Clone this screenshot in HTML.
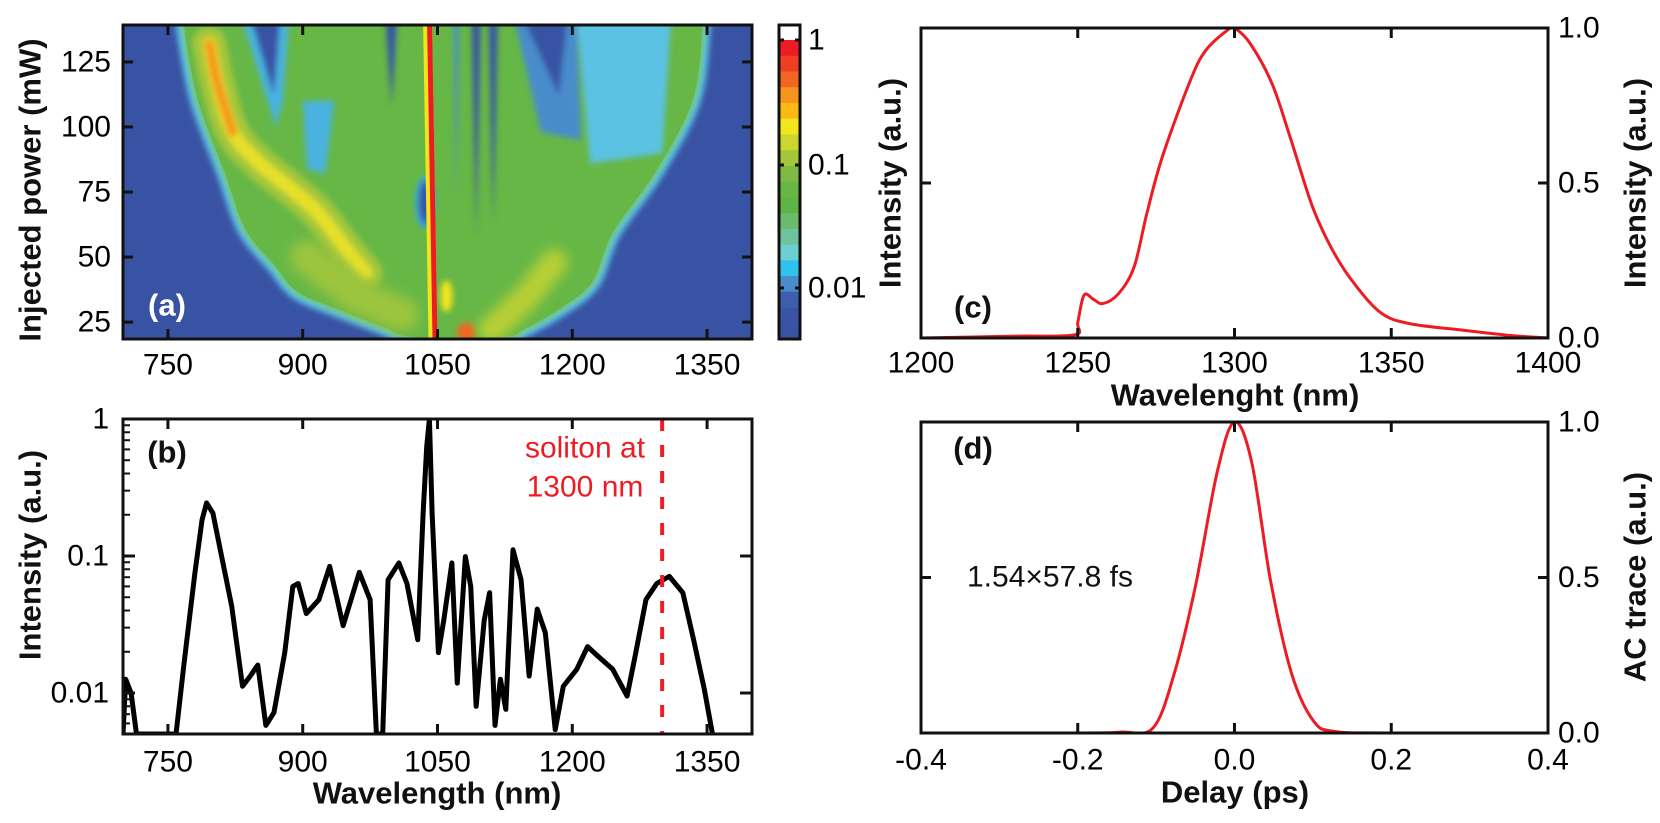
<!DOCTYPE html>
<html><head><meta charset="utf-8"><style>
body{margin:0;background:#fff}
svg{display:block}
text{font-family:"Liberation Sans",sans-serif}
</style></head><body>
<svg id="fig" width="1660" height="823" viewBox="0 0 1660 823" xmlns="http://www.w3.org/2000/svg">
<defs>
<clipPath id="clipA"><rect x="123" y="25" width="629" height="314"/></clipPath>
<clipPath id="clipB"><rect x="123" y="419" width="629" height="315"/></clipPath>
<clipPath id="clipC"><rect x="921" y="28" width="627" height="310"/></clipPath>
<clipPath id="clipD"><rect x="921" y="422" width="627" height="311"/></clipPath>
<filter id="blur3" x="-50%" y="-50%" width="200%" height="200%"><feGaussianBlur stdDeviation="3"/></filter>
<filter id="blur6" x="-50%" y="-50%" width="200%" height="200%"><feGaussianBlur stdDeviation="6"/></filter>
</defs>
<g id="panelA"></g>
<g id="cbar"></g>
<g id="panelB"></g>
<g id="panelC"></g>
<g id="panelD"></g>
</svg>
<script>
// ---------- data: panel (a) contour envelopes ----------
const envPower = [138, 110.4, 82.2, 60.4, 46.3, 36.0, 29, 22.6, 18.5];
const envLeft  = [766, 781, 811, 834, 867, 893, 940, 988, 1023];
const envPowerR = [138, 110, 82, 59, 39.9, 29.6, 21.5, 18.5];
const envRight  = [1347, 1336, 1294, 1247, 1224, 1188, 1147, 1123];
const ridgeNm = [796, 805, 822, 852, 884, 917, 946, 970];
const ridgePower = [132, 117, 98, 86, 77, 67, 54, 44];
const solitonLineNm = [1039, 1045];
const solitonLinePower = [139, 18.5];
// ---------- data: panel (b) ----------
const bNm = [700,703,709,715,759,768,780,788,793,800,812,821,833,842,850,859,868,880,889,895,904,918,930,945,963,975,982,989,995,1007,1016,1028,1034,1038,1041,1044,1051,1057,1066,1072,1081,1087,1093,1102,1108,1114,1120,1126,1134,1143,1152,1161,1170,1181,1190,1205,1217,1228,1245,1261,1270,1282,1294,1308,1323,1335,1347,1356];
const bInt = [0.005,0.0126,0.01,0.005,0.005,0.0166,0.075,0.184,0.244,0.206,0.084,0.043,0.0112,0.0134,0.016,0.0058,0.0072,0.0197,0.06,0.063,0.038,0.048,0.084,0.031,0.076,0.048,0.005,0.005,0.067,0.089,0.063,0.0245,0.206,0.63,1.0,0.206,0.0197,0.034,0.089,0.0118,0.099,0.06,0.008,0.034,0.054,0.0058,0.0126,0.0076,0.111,0.067,0.0133,0.041,0.0275,0.0054,0.0112,0.0149,0.0218,0.0187,0.0149,0.0095,0.0187,0.048,0.063,0.071,0.054,0.0245,0.0106,0.005];
const bTicksX = [750, 900, 1050, 1200, 1350];
const bTicksY = [1, 0.1, 0.01];
const bTickLabelsY = ["1", "0.1", "0.01"];
// ---------- data: panel (c) ----------
const cNm = [1200,1230,1249,1250,1252,1255,1258,1263,1268,1272,1277,1286,1291,1298,1300,1305,1312,1318,1325,1332,1339,1347,1356,1373,1387,1400];
const cInt = [0,0.006,0.01,0.05,0.138,0.125,0.111,0.143,0.23,0.4,0.585,0.833,0.93,0.995,1.0,0.95,0.82,0.64,0.42,0.27,0.165,0.079,0.046,0.025,0.009,0];
const cTicksX = [1200,1250,1300,1350,1400];
const cTicksY = [0, 0.5, 1.0];
// ---------- data: panel (d) ----------
const dDelay = [-0.4,-0.2,-0.145,-0.104,-0.077,-0.05,-0.022,0,0.022,0.046,0.073,0.101,0.128,0.2,0.4];
const dInt = [0,0,0.003,0.016,0.19,0.47,0.84,1.0,0.87,0.49,0.19,0.038,0.005,0,0];
const dTicksX = [-0.4,-0.2,0,0.2,0.4];
const dTickLabelsX = ["-0.4","-0.2","0.0","0.2","0.4"];
const dTicksY = [0, 0.5, 1.0];
// ---------- colorbar ----------
const cbarColors = ["#ed1c24","#ef3e23","#f26522","#f7941d","#fdb913","#f3e51c","#cbd62f","#a3c63a","#7fbb42","#66b746","#5fb448","#6bba6e","#6cc39c","#6dcfd0","#2fc2ee","#4a8ccb","#3d5fab","#3a54a3","#3a52a2"];
const cbarTicks = [1, 0.1, 0.01];
const cbarLabels = ["1","0.1","0.01"];
const aTicksY = [25,50,75,100,125];

const NS="http://www.w3.org/2000/svg";
function mk(tag, attrs, parent){const e=document.createElementNS(NS,tag);for(const k in attrs)e.setAttribute(k,attrs[k]);parent.appendChild(e);return e;}
function txt(parent,x,y,s,size,anchor,weight,fill,rot){const t=mk('text',{x:x,y:y,'font-size':size,'text-anchor':anchor||'middle','dominant-baseline':'central','font-weight':weight||'normal',fill:fill||'#000'},parent);if(rot)t.setAttribute('transform','rotate('+rot+' '+x+' '+y+')');t.textContent=s;return t;}
function smooth(pts){let d='M'+pts[0][0]+','+pts[0][1];for(let i=0;i<pts.length-1;i++){const p0=pts[Math.max(0,i-1)],p1=pts[i],p2=pts[i+1],p3=pts[Math.min(pts.length-1,i+2)];
const c1x=p1[0]+(p2[0]-p0[0])/6,c1y=p1[1]+(p2[1]-p0[1])/6,c2x=p2[0]-(p3[0]-p1[0])/6,c2y=p2[1]-(p3[1]-p1[1])/6;d+=' C'+c1x+','+c1y+' '+c2x+','+c2y+' '+p2[0]+','+p2[1];}return d;}

const ax=nm=>123+(nm-700)/700*629;
const ay=p=>339-(p-18.5)/(139.2-18.5)*314;
const by=v=>Math.min(734,419-Math.log10(v)*137);
const cx=nm=>921+(nm-1200)/200*627;
const cy=v=>338-v*310;
const dx=t=>921+(t+0.4)/0.8*627;
const dy=v=>733-v*311;
const cby=v=>288-(Math.log10(v)+2)*123;

// ---------- Panel A ----------
const A=document.getElementById('panelA');
const ga=mk('g',{'clip-path':'url(#clipA)'},A);
let r=mk('rect',{x:123,y:25,width:629,height:314,fill:'#3953a4'},ga);


function envPts(){let pts=[];pts.push([ax(envLeft[0]),ay(envPower[0])-20]);for(let i=0;i<envPower.length;i++)pts.push([ax(envLeft[i]),ay(envPower[i])]);for(let i=envPowerR.length-1;i>=0;i--)pts.push([ax(envRight[i]),ay(envPowerR[i])]);pts.push([ax(envRight[0]),ay(envPowerR[0])-20]);return pts;}
const envD=smooth(envPts())+' Z';
let p=mk('path',{d:envD,fill:'#6dcfe0',stroke:'#5cc4e0','stroke-width':12,'stroke-linejoin':'round',filter:'url(#blur3)'},ga);


p=mk('path',{d:envD,fill:'#66b746',stroke:'#6cc39c','stroke-width':4},ga);


const gh=mk('g',{filter:'url(#blur3)'},ga);
const holes=[
 {nm:[832,885,878,870],pw:[142,142,110,100],c:'#49b2e0'},
 {nm:[842,875,868],pw:[142,142,112],c:'#3953a4'},
 {nm:[992,1005,999],pw:[142,142,108],c:'#3953a4'},
 {nm:[1135,1205,1210,1165],pw:[142,142,95,98],c:'#4a8ccb'},
 {nm:[1145,1195,1185],pw:[142,142,112],c:'#3953a4'},
 {nm:[1205,1310,1300,1220],pw:[142,142,90,86],c:'#5cc2e4'},
 {nm:[1088,1098,1093],pw:[142,142,58],c:'#3953a4'},
 {nm:[1107,1117,1112],pw:[142,142,62],c:'#3953a4'},
 {nm:[1068,1074,1071],pw:[142,142,70],c:'#4a8ccb'},
 {nm:[900,935,925,905],pw:[110,110,82,84],c:'#49b2e0'}
];
holes.forEach(h=>{const e=mk('polygon',{points:h.nm.map((n,j)=>ax(n)+','+ay(h.pw[j])).join(' '),fill:h.c},gh);

});
let e=mk('ellipse',{cx:ax(1036),cy:ay(71),rx:8,ry:24,fill:'#3953a4',stroke:'#3aa8e0','stroke-width':4},gh);


const gr=mk('g',{filter:'url(#blur3)'},ga);
let rp=smooth(ridgeNm.map((n,i)=>[ax(n),ay(ridgePower[i])]));
e=mk('path',{d:rp,fill:'none',stroke:'#a3c63a','stroke-width':34,'stroke-linecap':'round','stroke-linejoin':'round'},gr);


e=mk('path',{d:rp,fill:'none',stroke:'#e6e02a','stroke-width':14,'stroke-linecap':'round','stroke-linejoin':'round'},gr);


e=mk('path',{d:smooth(ridgeNm.slice(0,3).map((n,i)=>[ax(n),ay(ridgePower[i])])),fill:'none',stroke:'#f7941d','stroke-width':9,'stroke-linecap':'round'},gr);


const gb2=mk('g',{filter:'url(#blur6)'},ga);
e=mk('polyline',{points:[ax(1110)+','+ay(22),ax(1150)+','+ay(35),ax(1180)+','+ay(48)].join(' '),fill:'none',stroke:'#b8cf35','stroke-width':26,'stroke-linecap':'round'},gb2);


e=mk('polyline',{points:[ax(905)+','+ay(50),ax(960)+','+ay(35),ax(1010)+','+ay(28)].join(' '),fill:'none',stroke:'#9cc43c','stroke-width':34,'stroke-linecap':'round'},gb2);


e=mk('ellipse',{cx:ax(1060),cy:ay(35),rx:6,ry:16,fill:'#f3e51c'},gr);


e=mk('ellipse',{cx:ax(1082),cy:ay(21),rx:9,ry:10,fill:'#f26522'},gr);


e=mk('line',{x1:ax(solitonLineNm[0]),y1:ay(solitonLinePower[0]),x2:ax(solitonLineNm[1]),y2:ay(solitonLinePower[1]),stroke:'#f3e51c','stroke-width':9},ga);


e=mk('line',{x1:ax(solitonLineNm[0])+2,y1:ay(solitonLinePower[0]),x2:ax(solitonLineNm[1])+2,y2:ay(solitonLinePower[1]),stroke:'#ed1c24','stroke-width':5},ga);


e=mk('rect',{x:123,y:25,width:629,height:314,fill:'none',stroke:'#111','stroke-width':3},A);


bTicksX.forEach(v=>{const x=ax(v);mk('line',{x1:x,y1:339,x2:x,y2:329,stroke:'#111','stroke-width':3},A);mk('line',{x1:x,y1:25,x2:x,y2:35,stroke:'#111','stroke-width':3},A);
const t=txt(A,x,365,String(v),30);});
aTicksY.forEach(v=>{const y=ay(v);mk('line',{x1:123,y1:y,x2:133,y2:y,stroke:'#111','stroke-width':3},A);mk('line',{x1:752,y1:y,x2:742,y2:y,stroke:'#111','stroke-width':3},A);
const t=txt(A,111,y,String(v),30,'end');});
e=txt(A,30,190,'Injected power (mW)',31,'middle','bold','#111',-90);
e=txt(A,167,305,'(a)',31,'middle','bold','#fff');

// ---------- Colorbar ----------
const CB=document.getElementById('cbar');
const topY=25,botY=339,bandTop=40,bandH=(botY-bandTop)/cbarColors.length;
mk('rect',{x:779,y:topY,width:21,height:bandTop-topY,fill:'#fff'},CB);
cbarColors.forEach((c,i)=>{const rr=mk('rect',{x:779,y:bandTop+i*bandH,width:21,height:bandH+0.5,fill:c},CB);

});
mk('rect',{x:779,y:topY,width:21,height:botY-topY,fill:'none',stroke:'#111','stroke-width':3},CB);
cbarTicks.forEach((v,i)=>{const y=i===0?40:cby(v);mk('line',{x1:779,y1:y,x2:784,y2:y,stroke:'#111','stroke-width':3},CB);mk('line',{x1:800,y1:y,x2:795,y2:y,stroke:'#111','stroke-width':3},CB);
const t=txt(CB,808,y,cbarLabels[i],30,'start');});

// ---------- Panel B ----------
const B=document.getElementById('panelB');
const gb=mk('g',{'clip-path':'url(#clipB)'},B);
e=mk('polyline',{points:bNm.map((n,i)=>ax(n)+','+by(bInt[i])).join(' '),fill:'none',stroke:'#000','stroke-width':5,'stroke-linejoin':'round'},gb);


e=mk('line',{x1:ax(1300),y1:419,x2:ax(1300),y2:734,stroke:'#ed1c24','stroke-width':4,'stroke-dasharray':'12 14'},B);


e=mk('rect',{x:123,y:419,width:629,height:315,fill:'none',stroke:'#111','stroke-width':3},B);


bTicksX.forEach(v=>{const x=ax(v);mk('line',{x1:x,y1:734,x2:x,y2:724,stroke:'#111','stroke-width':3},B);mk('line',{x1:x,y1:419,x2:x,y2:429,stroke:'#111','stroke-width':3},B);
const t=txt(B,x,762,String(v),30);});
bTicksY.forEach((v,i)=>{const y=by(v);mk('line',{x1:123,y1:y,x2:135,y2:y,stroke:'#111','stroke-width':3},B);mk('line',{x1:752,y1:y,x2:740,y2:y,stroke:'#111','stroke-width':3},B);
const t=txt(B,109,y,bTickLabelsY[i],30,'end');});
[0.01,0.1].forEach(d=>{for(let k=2;k<10;k++){const y=by(d*k);if(y<734)mk('line',{x1:123,y1:y,x2:130,y2:y,stroke:'#111','stroke-width':2},B);}});
[0.006,0.007,0.008,0.009].forEach(v=>mk('line',{x1:123,y1:by(v),x2:130,y2:by(v),stroke:'#111','stroke-width':2},B));
e=txt(B,30,555,'Intensity (a.u.)',31,'middle','bold','#111',-90);
e=txt(B,437,793,'Wavelength (nm)',31,'middle','bold','#111');
e=txt(B,167,452,'(b)',31,'middle','bold','#111');
e=txt(B,585,448,'soliton at',30,'middle','normal','#ed1c24');
e=txt(B,585,487,'1300 nm',30,'middle','normal','#ed1c24');

// ---------- Panel C ----------
const C=document.getElementById('panelC');
const gc=mk('g',{'clip-path':'url(#clipC)'},C);
e=mk('path',{d:smooth(cNm.map((n,i)=>[cx(n),cy(cInt[i])])),fill:'none',stroke:'#ed1c24','stroke-width':3,'stroke-linejoin':'round'},gc);


e=mk('rect',{x:921,y:28,width:627,height:310,fill:'none',stroke:'#111','stroke-width':3},C);


cTicksX.forEach(v=>{const x=cx(v);mk('line',{x1:x,y1:338,x2:x,y2:328,stroke:'#111','stroke-width':3},C);mk('line',{x1:x,y1:28,x2:x,y2:38,stroke:'#111','stroke-width':3},C);
const t=txt(C,x,363,String(v),30);});
cTicksY.forEach(v=>{const y=cy(v);mk('line',{x1:921,y1:y,x2:931,y2:y,stroke:'#111','stroke-width':3},C);mk('line',{x1:1548,y1:y,x2:1538,y2:y,stroke:'#111','stroke-width':3},C);
const t=txt(C,1558,y,v.toFixed(1),30,'start');});
e=txt(C,890,183,'Intensity (a.u.)',31,'middle','bold','#111',-90);
e=txt(C,1635,183,'Intensity (a.u.)',31,'middle','bold','#111',-90);
e=txt(C,1235,395,'Wavelenght (nm)',31,'middle','bold','#111');
e=txt(C,973,307,'(c)',31,'middle','bold','#111');

// ---------- Panel D ----------
const D=document.getElementById('panelD');
const gd=mk('g',{'clip-path':'url(#clipD)'},D);
e=mk('path',{d:smooth(dDelay.map((t,i)=>[dx(t),dy(dInt[i])])),fill:'none',stroke:'#ed1c24','stroke-width':3,'stroke-linejoin':'round'},gd);


e=mk('rect',{x:921,y:422,width:627,height:311,fill:'none',stroke:'#111','stroke-width':3},D);


dTicksX.forEach((v,i)=>{const x=dx(v);mk('line',{x1:x,y1:733,x2:x,y2:723,stroke:'#111','stroke-width':3},D);mk('line',{x1:x,y1:422,x2:x,y2:432,stroke:'#111','stroke-width':3},D);
const t=txt(D,x,760,dTickLabelsX[i],30);});
dTicksY.forEach(v=>{const y=dy(v);mk('line',{x1:921,y1:y,x2:931,y2:y,stroke:'#111','stroke-width':3},D);mk('line',{x1:1548,y1:y,x2:1538,y2:y,stroke:'#111','stroke-width':3},D);
const t=txt(D,1558,y,v.toFixed(1),30,'start');});
e=txt(D,1635,577,'AC trace (a.u.)',31,'middle','bold','#111',-90);
e=txt(D,1235,792,'Delay (ps)',31,'middle','bold','#111');
e=txt(D,973,448,'(d)',31,'middle','bold','#111');
e=txt(D,967,577,'1.54×57.8 fs',30,'start','normal','#111');
</script>
</body></html>
